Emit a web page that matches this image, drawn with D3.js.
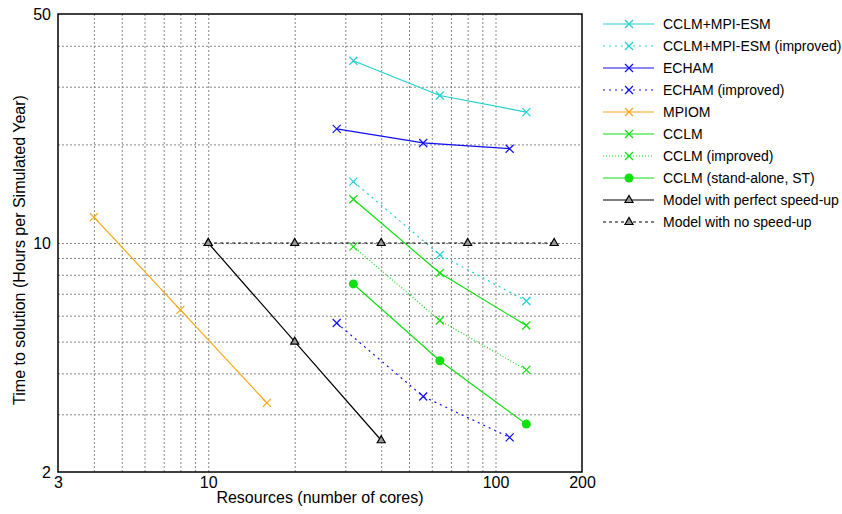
<!DOCTYPE html>
<meta charset="utf-8">
<style>
  body { margin: 0; background: #fff; }
  text { font-family: "Liberation Sans", Arial, sans-serif; }
</style>
<script src="https://d3js.org/d3.v7.min.js"></script>
<body>
<script>

var width = 842,
    height = 514,
    margin = {top: 14, right: 260, bottom: 42, left: 58};

// data (cores, hours per simulated year)
var cclmMpiCores = [32, 64, 128],
    cclmMpiTime = [36, 28.2, 25.1],
    cclmMpiImpTime = [15.4, 9.2, 6.65];
var echamCores = [28, 56, 112],
    echamTime = [22.3, 20.2, 19.4],
    echamImpTime = [5.7, 3.4, 2.55];
var mpiomCores = [4, 8, 16],
    mpiomTime = [12.0, 6.25, 3.25];
var cclmCores = [32, 64, 128],
    cclmTime = [13.6, 8.1, 5.6],
    cclmImpTime = [9.75, 5.8, 4.1],
    cclmStTime = [7.5, 4.37, 2.8];
var perfectCores = [10, 20, 40],
    perfectTime = [10, 5, 2.5];
var noSpeedCores = [10, 20, 40, 80, 160],
    noSpeedTime = [10, 10, 10, 10, 10];

var xTicks = [3, 10, 100, 200],
    yTicks = [2, 10, 50],
    xGrid = [4, 5, 6, 7, 8, 9, 10, 20, 30, 40, 50, 60, 70, 80, 90, 100],
    yGrid = [3, 4, 5, 6, 7, 8, 9, 10, 20, 30, 40];

function zip(xs, ys) { return xs.map(function(x, i) { return [x, ys[i]]; }); }

var series = [
  {name: "CCLM+MPI-ESM", color: "#22d0d0", dash: null, marker: "x", data: zip(cclmMpiCores, cclmMpiTime)},
  {name: "CCLM+MPI-ESM (improved)", color: "#22d0d0", dash: "2,4", marker: "x", data: zip(cclmMpiCores, cclmMpiImpTime)},
  {name: "ECHAM", color: "#1010f0", dash: null, marker: "x", data: zip(echamCores, echamTime)},
  {name: "ECHAM (improved)", color: "#1010f0", dash: "2,4", marker: "x", data: zip(echamCores, echamImpTime)},
  {name: "MPIOM", color: "#f8a818", dash: null, marker: "x", data: zip(mpiomCores, mpiomTime)},
  {name: "CCLM", color: "#10e010", dash: null, marker: "x", data: zip(cclmCores, cclmTime)},
  {name: "CCLM (improved)", color: "#10e010", dash: "1,2", marker: "x", data: zip(cclmCores, cclmImpTime)},
  {name: "CCLM (stand-alone, ST)", color: "#10e010", dash: null, marker: "dot", data: zip(cclmCores, cclmStTime)},
  {name: "Model with perfect speed-up", color: "#000", dash: null, marker: "tri", data: zip(perfectCores, perfectTime)},
  {name: "Model with no speed-up", color: "#000", dash: "3,3", marker: "tri", data: zip(noSpeedCores, noSpeedTime)}
];

var x = d3.scaleLog().domain([3, 200]).range([margin.left, width - margin.right]);
var y = d3.scaleLog().domain([2, 50]).range([height - margin.bottom, margin.top]);

var svg = d3.select("body").append("svg")
    .attr("width", width)
    .attr("height", height);

// grid
svg.append("g")
    .attr("transform", "translate(0," + (height - margin.bottom) + ")")
    .call(d3.axisBottom(x).tickValues(xGrid).tickSize(-(height - margin.top - margin.bottom)).tickFormat(""))
    .call(function(g) {
      g.select(".domain").remove();
      g.selectAll("line").attr("stroke", "#888").attr("stroke-dasharray", "2,2");
    });
svg.append("g")
    .attr("transform", "translate(" + margin.left + ",0)")
    .call(d3.axisLeft(y).tickValues(yGrid).tickSize(-(width - margin.left - margin.right)).tickFormat(""))
    .call(function(g) {
      g.select(".domain").remove();
      g.selectAll("line").attr("stroke", "#888").attr("stroke-dasharray", "2,2");
    });

// tick labels
svg.append("g")
    .attr("transform", "translate(0," + (height - margin.bottom) + ")")
    .call(d3.axisBottom(x).tickValues(xTicks).tickSize(0).tickPadding(5).tickFormat(d3.format("d")))
    .call(function(g) {
      g.select(".domain").remove();
      g.selectAll("text").attr("font-size", 16).attr("fill", "#000")
        .style("font-family", "Liberation Sans, Arial, sans-serif");
    });
svg.append("g")
    .attr("transform", "translate(" + margin.left + ",0)")
    .call(d3.axisLeft(y).tickValues(yTicks).tickSize(0).tickPadding(7).tickFormat(d3.format("d")))
    .call(function(g) {
      g.select(".domain").remove();
      g.selectAll("text").attr("font-size", 16).attr("fill", "#000")
        .style("font-family", "Liberation Sans, Arial, sans-serif");
    });

// frame
svg.append("rect")
    .attr("x", margin.left)
    .attr("y", margin.top)
    .attr("width", width - margin.left - margin.right)
    .attr("height", height - margin.top - margin.bottom)
    .attr("fill", "none")
    .attr("stroke", "#000")
    .attr("stroke-width", 1.5);

// axis titles
svg.append("text")
    .attr("x", (margin.left + width - margin.right) / 2)
    .attr("y", 503)
    .attr("text-anchor", "middle")
    .attr("font-size", 16)
    .text("Resources (number of cores)");
svg.append("text")
    .attr("transform", "translate(25," + 250 + ") rotate(-90)")
    .attr("text-anchor", "middle")
    .attr("font-size", 16)
    .text("Time to solution (Hours per Simulated Year)");

function drawMarker(sel, type, color) {
  if (type == "x") {
    sel.append("path")
      .attr("d", "M-4,-4L4,4M-4,4L4,-4")
      .attr("stroke", color)
      .attr("stroke-width", 1.2)
      .attr("fill", "none");
  } else if (type == "dot") {
    sel.append("circle").attr("r", 4.5).attr("fill", color);
  } else {
    sel.append("path")
      .attr("d", "M0,-4.5L4,2.5L-4,2.5Z")
      .attr("stroke", color)
      .attr("stroke-width", 1.2)
      .attr("fill", "#999");
  }
}

var line = d3.line()
    .x(function(d) { return x(d[0]); })
    .y(function(d) { return y(d[1]); });

var plot = svg.append("g");
series.forEach(function(s) {
  plot.append("path")
    .datum(s.data)
    .attr("d", line)
    .attr("fill", "none")
    .attr("stroke", s.color)
    .attr("stroke-width", 1.2)
    .attr("stroke-dasharray", s.dash);
  plot.selectAll(null)
    .data(s.data)
    .enter().append("g")
    .attr("transform", function(d) { return "translate(" + x(d[0]) + "," + y(d[1]) + ")"; })
    .each(function() { drawMarker(d3.select(this), s.marker, s.color); });
});

// legend
var legend = svg.append("g");
var rows = legend.selectAll("g")
    .data(series)
  .enter().append("g")
    .attr("transform", function(d, i) { return "translate(0," + (24 + i * 22) + ")"; });
rows.append("line")
    .attr("x1", 603).attr("x2", 654)
    .attr("stroke", function(d) { return d.color; })
    .attr("stroke-width", 1.2)
    .attr("stroke-dasharray", function(d) { return d.dash; });
rows.append("g")
    .attr("transform", "translate(629,0)")
    .each(function(d) { drawMarker(d3.select(this), d.marker, d.color); });
rows.append("text")
    .attr("x", 663)
    .attr("dy", "0.36em")
    .attr("font-size", 14)
    .text(function(d) { return d.name; });
</script>
</body>
